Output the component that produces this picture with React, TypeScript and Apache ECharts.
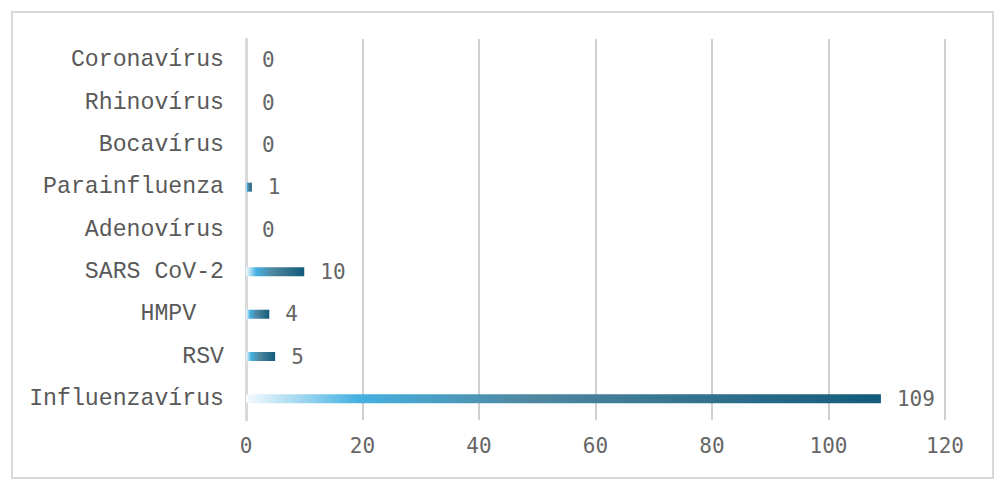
import React, { useEffect, useRef } from "react";
import * as echarts from "echarts";

const categories = [
  "Influenzavírus",
  "RSV",
  "HMPV  ",
  "SARS CoV-2",
  "Adenovírus",
  "Parainfluenza",
  "Bocavírus",
  "Rhinovírus",
  "Coronavírus",
];
const values = [109, 5, 4, 10, 0, 1, 0, 0, 0];
const xMin = 0;
const xMax = 120;
const xInterval = 20;

export default function App() {
  const ref = useRef<HTMLDivElement>(null);
  useEffect(() => {
    if (!ref.current) return;
    const chart = echarts.init(ref.current, null, { renderer: "svg" });
    const barGradient = new echarts.graphic.LinearGradient(0, 0, 1, 0, [
      { offset: 0, color: "#f5fbfe" },
      { offset: 0.175, color: "#45b1e1" },
      { offset: 0.45, color: "#4f87a0" },
      { offset: 1, color: "#135b7b" },
    ]);
    chart.setOption({
      animation: false,
      backgroundColor: "#ffffff",
      graphic: [
        {
          type: "rect",
          shape: { x: 12, y: 12, width: 981, height: 466 },
          style: { fill: "none", stroke: "#d9d9d9", lineWidth: 2 },
          silent: true,
        },
      ],
      grid: { left: 246, right: 59, top: 39, bottom: 73, containLabel: false },
      xAxis: {
        type: "value",
        min: xMin,
        max: xMax,
        interval: xInterval,
        axisLine: { show: false },
        axisTick: { show: false },
        splitLine: { show: true, lineStyle: { color: "#c0c0c0", width: 1.5 } },
        axisLabel: {
          margin: 15,
          color: "#666666",
          fontFamily: "DejaVu Sans Mono",
          fontSize: 21,
        },
      },
      yAxis: {
        type: "category",
        data: categories,
        axisLine: { show: true, lineStyle: { color: "#d9d9d9", width: 3 } },
        axisTick: { show: false },
        splitLine: { show: false },
        axisLabel: {
          margin: 22,
          color: "#595959",
          fontFamily: "Liberation Mono",
          fontSize: 23.2,
        },
      },
      series: [
        {
          type: "bar",
          data: values,
          barWidth: 9,
          itemStyle: { color: barGradient },
          label: {
            show: true,
            position: "right",
            distance: 16,
            color: "#666666",
            fontFamily: "DejaVu Sans Mono",
            fontSize: 21,
          },
        },
      ],
    });
    return () => chart.dispose();
  }, []);
  return (
    <div
      ref={ref}
      style={{ position: "fixed", left: 0, top: 0, width: 1004, height: 493 }}
    />
  );
}
